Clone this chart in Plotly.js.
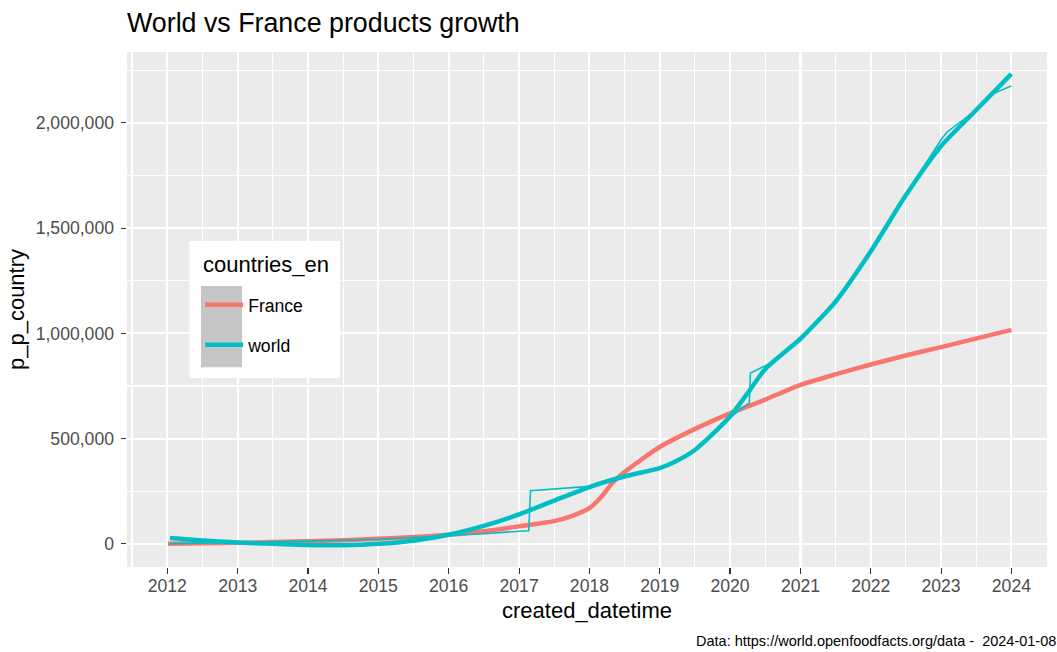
<!DOCTYPE html>
<html>
<head>
<meta charset="utf-8">
<script src="https://cdn.plot.ly/plotly-3.0.1.min.js"></script>
<style>
  html, body { margin: 0; padding: 0; background: #ffffff; }
  #chart { width: 1057px; height: 652px; }
</style>
</head>
<body>
<div id="chart"></div>
<script>
// ---- Data ----
const franceDates = ["2012-01-05","2013-01-01","2014-01-01","2015-01-01","2016-01-01","2016-07-01","2017-01-01","2017-07-01","2017-10-01","2018-01-01","2018-03-01","2018-05-01","2018-07-01","2019-01-01","2019-07-01","2020-01-01","2020-07-01","2021-01-01","2021-07-01","2022-01-01","2022-07-01","2023-01-01","2023-07-01","2024-01-01"];
const franceSmooth = [0,5000,12000,24000,43000,60000,83000,108000,132000,170000,220000,290000,340000,460000,545000,620000,685000,755000,805000,852000,895000,935000,975000,1017000];

const worldSmoothDates = ["2012-01-15","2012-07-01","2013-01-01","2013-07-01","2014-01-01","2014-07-01","2015-01-01","2015-07-01","2016-01-01","2016-07-01","2017-01-01","2017-07-01","2018-01-01","2018-07-01","2019-01-01","2019-04-01","2019-07-01","2019-10-01","2020-01-01","2020-04-01","2020-07-01","2021-01-01","2021-07-01","2022-01-01","2022-07-01","2023-01-01","2023-07-01","2024-01-01"];
const worldSmooth = [28000,16000,6000,0,-5000,-7000,0,15000,43000,85000,140000,205000,270000,320000,360000,395000,445000,520000,605000,715000,830000,975000,1150000,1390000,1655000,1890000,2060000,2233000];

const worldRawDates = ["2012-01-15","2013-01-01","2014-01-01","2015-01-01","2015-07-01","2016-01-01","2016-07-01","2017-01-01","2017-02-20","2017-03-01","2017-07-01","2018-01-01","2018-07-01","2018-09-01","2019-01-01","2019-07-01","2020-01-01","2020-04-10","2020-04-16","2020-08-01","2021-01-01","2021-07-01","2022-01-01","2022-07-01","2023-01-01","2023-02-01","2023-07-01","2023-10-01","2024-01-01"];
const worldRaw = [1000,6000,13000,22000,30000,38000,48000,60000,62000,252000,260000,273000,318000,335000,360000,440000,600000,670000,812000,860000,965000,1140000,1395000,1660000,1920000,1957000,2060000,2140000,2176000];

const seriesNames = ["France", "world"];
const legendTitle = "countries_en";
const yTickVals = [0, 500000, 1000000, 1500000, 2000000];

// ---- Styling ----
const FONT = "Liberation Sans, Arial, Helvetica, sans-serif";
const RED = "#F8766D";
const TEAL = "#00BFC4";

const traces = [
  {
    x: franceDates, y: franceSmooth, name: seriesNames[0], type: "scatter", mode: "lines",
    line: {color: RED, width: 4.5, shape: "spline", smoothing: 0.6},
    legendgroup: "a"
  },
  {
    x: worldSmoothDates, y: worldSmooth, name: seriesNames[1], type: "scatter", mode: "lines",
    line: {color: TEAL, width: 4.5, shape: "spline", smoothing: 0.6},
    legendgroup: "b"
  },
  {
    x: worldRawDates, y: worldRaw, name: seriesNames[1] + " (raw)", type: "scatter", mode: "lines",
    line: {color: TEAL, width: 1.6},
    showlegend: false, legendgroup: "b"
  }
];

const layout = {
  width: 1057, height: 652,
  margin: {l: 127, r: 10, t: 52, b: 85},
  paper_bgcolor: "#ffffff",
  plot_bgcolor: "#EBEBEB",
  font: {family: FONT, color: "#000000"},
  title: {
    text: "World vs France products growth",
    font: {size: 26.8, color: "#000000", family: FONT},
    x: 0, xref: "paper", xanchor: "left",
    y: 0.966, yref: "container", yanchor: "middle"
  },
  xaxis: {
    type: "date",
    range: ["2011-06-06", "2024-07-04"],
    tickformat: "%Y",
    dtick: "M12",
    tick0: "2012-01-01",
    ticks: "outside", ticklen: 5.5, tickwidth: 1.1, tickcolor: "#333333",
    ticklabelstandoff: -3,
    tickfont: {size: 17.6, color: "#4D4D4D", family: FONT},
    showgrid: true, gridcolor: "#ffffff", gridwidth: 2.1,
    minor: {dtick: "M6", tick0: "2012-07-02", showgrid: true, gridcolor: "#ffffff", gridwidth: 1.05, ticks: ""},
    zeroline: false, showline: false,
    title: {text: "created_datetime", font: {size: 22, color: "#000000", family: FONT}, standoff: 7}
  },
  yaxis: {
    range: [-110000, 2337000],
    tickvals: yTickVals,
    tickformat: ",d",
    ticks: "outside", ticklen: 5.5, tickwidth: 1.1, tickcolor: "#333333",
    ticklabelstandoff: 3,
    tickfont: {size: 17.6, color: "#4D4D4D", family: FONT},
    showgrid: true, gridcolor: "#ffffff", gridwidth: 2.1,
    minor: {tickvals: [250000, 750000, 1250000, 1750000, 2250000], showgrid: true, gridcolor: "#ffffff", gridwidth: 1.05, ticks: ""},
    zeroline: false, showline: false,
    title: {text: "p_p_country", font: {size: 22, color: "#000000", family: FONT}, standoff: 4}
  },
  legend: {
    x: 0.0795, y: 0.544, xanchor: "left", yanchor: "top",
    bgcolor: "rgba(0,0,0,0)",
    borderwidth: 0,
    font: {size: 17.6, color: "#000000", family: FONT},
    traceorder: "grouped", tracegroupgap: 14,
    itemwidth: 38
  },
  shapes: [
    {type: "rect", xref: "paper", yref: "paper", x0: 0.068, x1: 0.2315, y0: 0.367, y1: 0.633,
     fillcolor: "#ffffff", line: {width: 0}, layer: "above"},
    {type: "rect", xref: "paper", yref: "paper", x0: 0.0804, x1: 0.125, y0: 0.388, y1: 0.5456,
     fillcolor: "#C6C6C6", line: {width: 0}, layer: "above"}
  ],
  annotations: [
    {text: legendTitle, xref: "paper", yref: "paper", x: 0.0804, y: 0.587, xanchor: "left", yanchor: "middle",
     showarrow: false, font: {size: 22, color: "#000000", family: FONT}},
    {text: "Data: https://world.openfoodfacts.org/data -  2024-01-08",
     xref: "paper", yref: "paper", x: 1.012, y: -0.1437, xanchor: "right", yanchor: "middle",
     showarrow: false, font: {size: 14.5, color: "#000000", family: FONT}}
  ],
  showlegend: true
};

Plotly.newPlot("chart", traces, layout, {displayModeBar: false, staticPlot: true});
</script>
</body>
</html>
